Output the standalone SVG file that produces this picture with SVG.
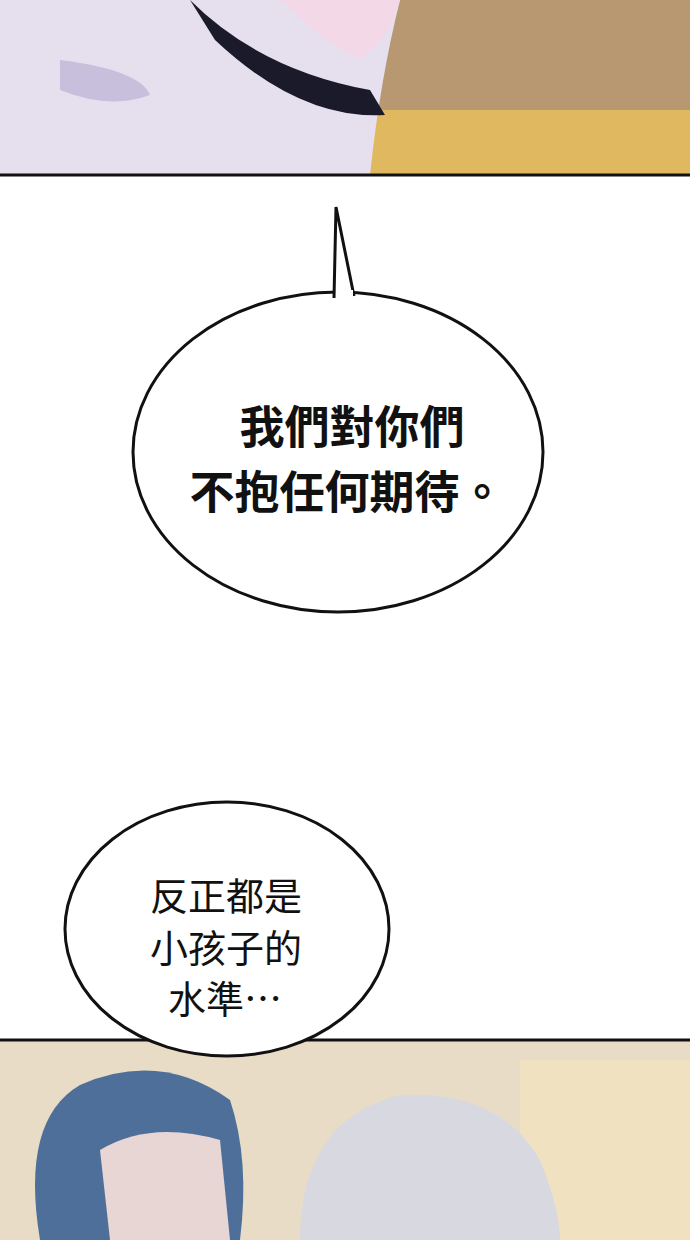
<svg xmlns="http://www.w3.org/2000/svg" width="690" height="1240" viewBox="0 0 690 1240">
<style>
.b{fill:#fff;stroke:#111;stroke-width:3}
.t1{font-family:"Noto Sans CJK TC","Noto Sans CJK SC",sans-serif;font-weight:bold;font-size:45px;fill:#111}
.t2{font-family:"Noto Sans CJK TC","Noto Sans CJK SC",sans-serif;font-size:38px;fill:#111}
</style>
<rect width="690" height="1240" fill="#fff"/>
<g id="panel-top">
<rect x="0" y="0" width="690" height="175" fill="#d8b878"/>
<rect x="360" y="0" width="330" height="120" fill="#b89870"/>
<rect x="360" y="110" width="330" height="65" fill="#e0b860"/>
<path d="M0 0 H400 Q380 80 370 175 H0 Z" fill="#e6e0ee"/>
<path d="M60 60 Q140 70 150 95 Q110 110 60 90 Z" fill="#c7bfdc"/>
<path d="M190 0 Q260 70 370 90 L385 115 Q300 120 215 40 Z" fill="#1a1a2a"/>
<path d="M280 0 H400 Q390 40 360 60 Q320 40 280 0 Z" fill="#f3d8e8"/>
<line x1="0" y1="175" x2="690" y2="175" stroke="#111" stroke-width="3"/>
</g>
<g id="panel-bottom">
<rect x="0" y="1040" width="690" height="200" fill="#e8dcc6"/>
<rect x="520" y="1060" width="170" height="180" fill="#f0e2c0"/>
<path d="M40 1240 Q20 1120 80 1085 Q160 1050 230 1100 Q250 1160 240 1240 Z" fill="#4d6f9a"/>
<path d="M100 1150 Q150 1120 220 1140 L230 1240 H110 Z" fill="#e8d6d4"/>
<path d="M300 1240 Q300 1120 400 1095 Q500 1090 540 1160 Q560 1210 560 1240 Z" fill="#d7d8e0"/>
<line x1="0" y1="1040" x2="690" y2="1040" stroke="#111" stroke-width="3"/>
</g>
<g id="bubble1">
<ellipse class="b" cx="338" cy="452" rx="205" ry="160"/>
<path d="M334 298 L336 207 L354 296" fill="#fff" stroke="#111" stroke-width="3"/>
<rect x="336" y="290" width="17" height="12" fill="#fff"/>
<text class="t1" x="352" y="444" text-anchor="middle">我們對你們</text>
<text class="t1" x="347" y="509" text-anchor="middle">不抱任何期待。</text>
</g>
<g id="bubble2">
<ellipse class="b" cx="227" cy="929" rx="162" ry="127"/>
<text class="t2" x="150" y="910">反正都是</text>
<text class="t2" x="150" y="962">小孩子的</text>
<text class="t2" x="168" y="1013">水準…</text>
</g>
</svg>
